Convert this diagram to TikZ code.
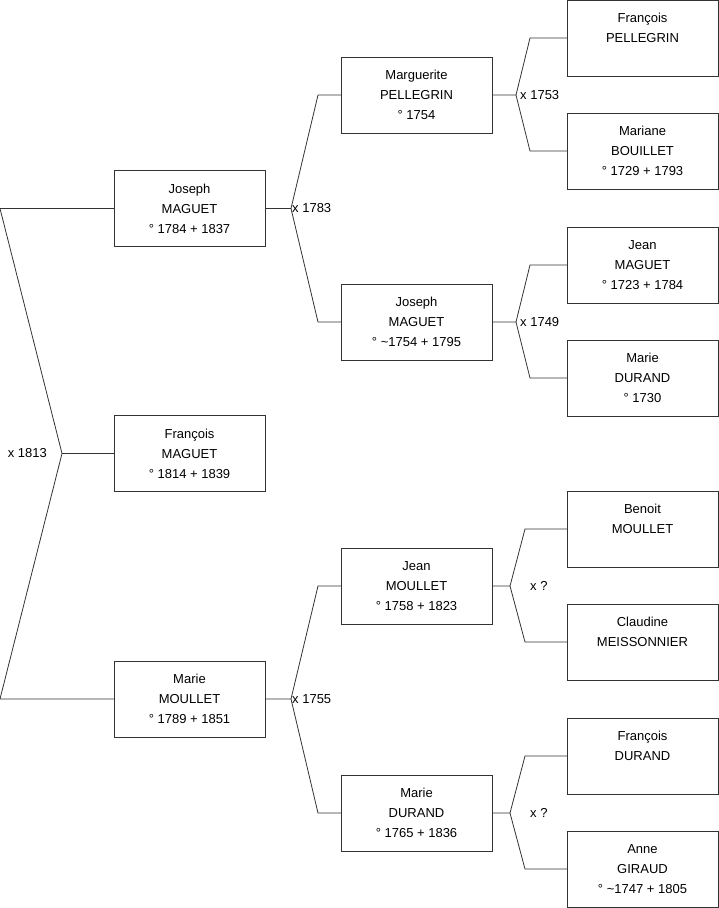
\documentclass[tikz,border=0pt]{standalone}
\usepackage{fontspec}
\setmainfont{Liberation Sans}
\usetikzlibrary{positioning}

\tikzset{
  person/.style={draw=black!80, line width=0.8pt, minimum width=151pt, minimum height=76pt,
    inner sep=0pt, outer sep=0pt, align=center, font=\fontsize{13}{20}\selectfont},
  wed/.style={font=\fontsize{13}{16}\selectfont, inner sep=1pt},
  link/.style={draw=black!80, line width=0.8pt}
}

\begin{document}
\begin{tikzpicture}[x=1pt, y=-1pt]
    \useasboundingbox (0,0) rectangle (719,908);

    % generation 1
    \node[person] (jm)  at (189.5,208.5) {Joseph\\MAGUET\\° 1784 + 1837};
    \node[person] (fm)  at (189.5,453.5) {François\\MAGUET\\° 1814 + 1839};
    \node[person] (mm)  at (189.5,699)   {Marie\\MOULLET\\° 1789 + 1851};

    % generation 2
    \node[person] (mp)  at (416.5,95)  {Marguerite\\PELLEGRIN\\° 1754};
    \node[person] (jm2) at (416.5,322) {Joseph\\MAGUET\\° \textasciitilde1754 + 1795};
    \node[person] (jmo) at (416.5,586) {Jean\\MOULLET\\° 1758 + 1823};
    \node[person] (md)  at (416.5,813) {Marie\\DURAND\\° 1765 + 1836};

    % generation 3
    \node[person] (fp)  at (642.5,38)  {François\\PELLEGRIN\\\mbox{}};
    \node[person] (mb)  at (642.5,151) {Mariane\\BOUILLET\\° 1729 + 1793};
    \node[person] (jma) at (642.5,265) {Jean\\MAGUET\\° 1723 + 1784};
    \node[person] (mdu) at (642.5,378) {Marie\\DURAND\\° 1730};
    \node[person] (bm)  at (642.5,529) {Benoit\\MOULLET\\\mbox{}};
    \node[person] (cm)  at (642.5,642) {Claudine\\MEISSONNIER\\\mbox{}};
    \node[person] (fd)  at (642.5,756) {François\\DURAND\\\mbox{}};
    \node[person] (ag)  at (642.5,869) {Anne\\GIRAUD\\° \textasciitilde1747 + 1805};

    % couple 1813
    \coordinate (t0) at (0,208.5);
    \coordinate (v0) at (62,453.5);
    \coordinate (b0) at (0,699);
    \draw[link] (jm.west) -- (t0) -- (v0) -- (b0) -- (mm.west);
    \draw[link] (v0) -- (fm.west);
    \node[wed, left=14pt of v0] (w0) {x 1813};

    % couple 1783
    \coordinate (v1) at (291,208.5);
    \coordinate (c1a) at (318,95);
    \coordinate (c1b) at (318,322);
    \draw[link] (jm.east) -- (v1) -- (c1a) -- (mp.west);
    \draw[link] (v1) -- (c1b) -- (jm2.west);
    \node[wed, right=0pt of v1] (w1) {x 1783};

    % couple 1755
    \coordinate (v2) at (291,699);
    \coordinate (c2a) at (318,586);
    \coordinate (c2b) at (318,813);
    \draw[link] (mm.east) -- (v2) -- (c2a) -- (jmo.west);
    \draw[link] (v2) -- (c2b) -- (md.west);
    \node[wed, right=0pt of v2] (w2) {x 1755};

    % couple 1753
    \coordinate (v3) at (516,95);
    \coordinate (c3a) at (530,38);
    \coordinate (c3b) at (530,151);
    \draw[link] (mp.east) -- (v3) -- (c3a) -- (fp.west);
    \draw[link] (v3) -- (c3b) -- (mb.west);
    \node[wed, right=3pt of v3] (w3) {x 1753};

    % couple 1749
    \coordinate (v4) at (516,322);
    \coordinate (c4a) at (530,265);
    \coordinate (c4b) at (530,378);
    \draw[link] (jm2.east) -- (v4) -- (c4a) -- (jma.west);
    \draw[link] (v4) -- (c4b) -- (mdu.west);
    \node[wed, right=3pt of v4] (w4) {x 1749};

    % couple ?
    \coordinate (v5) at (510,586);
    \coordinate (c5a) at (525,529);
    \coordinate (c5b) at (525,642);
    \draw[link] (jmo.east) -- (v5) -- (c5a) -- (bm.west);
    \draw[link] (v5) -- (c5b) -- (cm.west);
    \node[wed, right=19pt of v5] (w5) {x ?};

    % couple ?
    \coordinate (v6) at (510,813);
    \coordinate (c6a) at (525,756);
    \coordinate (c6b) at (525,869);
    \draw[link] (md.east) -- (v6) -- (c6a) -- (fd.west);
    \draw[link] (v6) -- (c6b) -- (ag.west);
    \node[wed, right=19pt of v6] (w6) {x ?};
\end{tikzpicture}
\end{document}
